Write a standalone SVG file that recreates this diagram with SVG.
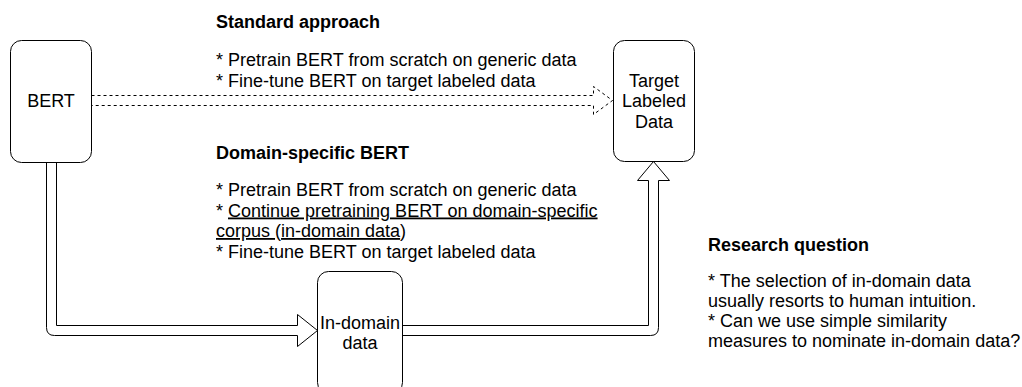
<svg xmlns="http://www.w3.org/2000/svg" width="1022" height="387" viewBox="0 0 1022 387">
<style>
text{font-family:"Liberation Sans",Arial,Helvetica,sans-serif;font-size:18px;fill:#000}
.b{font-weight:bold}
.c{text-anchor:middle}
.node{fill:#fff;stroke:#000;stroke-width:1}
.arrow{fill:#fff;stroke:#000;stroke-width:1;stroke-linejoin:miter}
.dash{stroke-dasharray:3 3}
.u{text-decoration:underline}
</style>
<rect width="1022" height="387" fill="#fff"/>
<g id="connectors">
<path class="arrow dash" d="M91.5,95.5 L593.5,95.5 L593.5,86.5 L612.5,100.5 L593.5,114.5 L593.5,105.5 L91.5,105.5 Z"/>
<path class="arrow" d="M56.5,162.5 L56.5,325.5 L297.5,325.5 L297.5,314.5 L317.5,330.5 L297.5,346.5 L297.5,335.5 L54.5,335.5 Q46.5,335.5 46.5,327.5 L46.5,162.5"/>
<path class="arrow" d="M402.5,325.5 L648.5,325.5 L648.5,180.5 L637.5,180.5 L653.5,161.5 L669.5,180.5 L658.5,180.5 L658.5,327.5 Q658.5,335.5 650.5,335.5 L402.5,335.5"/>
</g>
<g id="bert">
<rect class="node" x="10.5" y="40.5" width="81" height="122" rx="11"/>
<text class="c" x="51" y="107">BERT</text>
</g>
<g id="target">
<rect class="node" x="613.5" y="40.5" width="81" height="121" rx="11"/>
<text class="c" x="654" y="86.5">Target</text>
<text class="c" x="654" y="107">Labeled</text>
<text class="c" x="654" y="127.5">Data</text>
</g>
<g id="indomain">
<rect class="node" x="317.5" y="271.5" width="85" height="122" rx="11"/>
<text class="c" x="360" y="328.5">In-domain</text>
<text class="c" x="360" y="349">data</text>
</g>
<g id="standard">
<text class="b" x="216" y="28">Standard approach</text>
<text x="216" y="66">* Pretrain BERT from scratch on generic data</text>
<text x="216" y="86.5">* Fine-tune BERT on target labeled data</text>
</g>
<g id="domain">
<text class="b" x="216" y="159">Domain-specific BERT</text>
<text x="216" y="196">* Pretrain BERT from scratch on generic data</text>
<text x="216" y="216.5" xml:space="preserve">* <tspan class="u">Continue pretraining BERT on domain-specific</tspan></text>
<text x="216" y="237" xml:space="preserve"><tspan class="u">corpus </tspan>(<tspan class="u">in-domain data</tspan>)</text>
<text x="216" y="257.5">* Fine-tune BERT on target labeled data</text>
</g>
<g id="research">
<text class="b" x="708" y="251">Research question</text>
<text x="708" y="287">* The selection of in-domain data</text>
<text x="708" y="307">usually resorts to human intuition.</text>
<text x="708" y="327">* Can we use simple similarity</text>
<text x="708" y="347">measures to nominate in-domain data?</text>
</g>
</svg>
